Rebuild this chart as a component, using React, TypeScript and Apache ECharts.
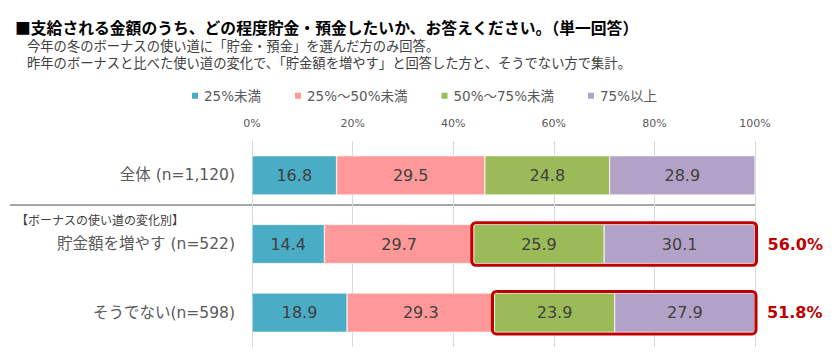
import React, { useEffect, useRef } from "react";
import * as echarts from "echarts";

const categories = ["全体 (n=1,120)", "貯金額を増やす (n=522)", "そうでない(n=598)"];
const seriesNames = ["25%未満", "25%～50%未満", "50%～75%未満", "75%以上"];
const under25 = [16.8, 14.4, 18.9];
const from25to50 = [29.5, 29.7, 29.3];
const from50to75 = [24.8, 25.9, 23.9];
const over75 = [28.9, 30.1, 27.9];
const highlightRows = [1, 2];
const xTicks = [0, 20, 40, 60, 80, 100];

const colors = ["#4BACC6", "#FF9999", "#9BBB59", "#B3A2C7"];
const JP = "'Noto Sans CJK JP', 'Noto Sans', sans-serif";
const MIX = "'DejaVu Sans', 'Noto Sans CJK JP', sans-serif";

export default function App() {
  const ref = useRef<HTMLDivElement>(null);
  useEffect(() => {
    if (!ref.current) return;
    const chart = echarts.init(ref.current, null, { renderer: "svg" });
    const values = [under25, from25to50, from50to75, over75];
    const boxData = highlightRows.map((i) => {
      const start = under25[i] + from25to50[i];
      const upper = from50to75[i] + over75[i];
      return [start, i, start + upper, upper.toFixed(1) + "%"];
    });
    chart.setOption({
      animation: false,
      textStyle: { fontFamily: MIX },
      grid: { left: 252, right: 85, top: 141, bottom: 9, containLabel: false },
      legend: {
        left: 185,
        top: 84,
        itemWidth: 8,
        itemHeight: 8,
        itemGap: 32,
        icon: "rect",
        textStyle: { fontSize: 13.5, color: "#595959", fontFamily: MIX },
        data: seriesNames,
      },
      xAxis: {
        type: "value",
        position: "top",
        min: xTicks[0],
        max: xTicks[xTicks.length - 1],
        interval: 20,
        axisLine: { show: false },
        axisTick: { show: false },
        splitLine: { show: true, lineStyle: { color: "#D9D9D9", width: 1 } },
        axisLabel: { formatter: "{value}%", fontSize: 11, color: "#595959", margin: 12, fontFamily: MIX },
      },
      yAxis: {
        type: "category",
        inverse: true,
        data: categories,
        axisLine: { show: true, lineStyle: { color: "#D9D9D9", width: 1 } },
        axisTick: { show: false },
        axisLabel: { fontSize: 15.5, color: "#595959", margin: 17, fontFamily: MIX },
      },
      series: [
        ...values.map((v, k) => ({
          type: "bar",
          name: seriesNames[k],
          stack: "total",
          data: v,
          barCategoryGap: "43%",
          itemStyle: { color: colors[k], borderColor: "#ffffff", borderWidth: 0.5 },
          label: {
            show: true,
            position: "inside",
            fontSize: 16,
            color: "#404040",
            fontFamily: MIX,
            formatter: (p: any) => Number(p.value).toFixed(1),
          },
        })),
        {
          type: "custom",
          name: "box",
          clip: false,
          z: 10,
          data: boxData,
          renderItem: (params: any, api: any) => {
            const s = api.value(0);
            const c = api.value(1);
            const e = api.value(2);
            const p0 = api.coord([s, c]);
            const p1 = api.coord([e, c]);
            const band = api.size([0, 1])[1];
            const h = band * 0.62;
            const txt = boxData[params.dataIndex][3];
            return {
              type: "group",
              children: [
                {
                  type: "rect",
                  shape: { x: p0[0] - 2, y: p0[1] - h / 2, width: p1[0] - p0[0] + 3, height: h, r: 4 },
                  style: { fill: "none", stroke: "#C00000", lineWidth: 3 },
                },
                {
                  type: "text",
                  x: p1[0] + 12,
                  y: p1[1],
                  style: {
                    text: txt,
                    fontSize: 16,
                    fontWeight: "bold",
                    fill: "#C00000",
                    fontFamily: MIX,
                    textAlign: "left",
                    textVerticalAlign: "middle",
                  },
                },
              ],
            };
          },
        },
      ],
      graphic: [
        {
          type: "text",
          x: 15,
          y: 27,
          style: {
            text: "■支給される金額のうち、どの程度貯金・預金したいか、お答えください。（単一回答）",
            fontSize: 15.8,
            fontWeight: "bold",
            fill: "#000000",
            fontFamily: JP,
            textVerticalAlign: "middle",
            lineHeight: 16,
          },
        },
        {
          type: "text",
          x: 27,
          y: 45.5,
          style: {
            text: "今年の冬のボーナスの使い道に「貯金・預金」を選んだ方のみ回答。",
            fontSize: 13.3,
            fill: "#404040",
            fontFamily: JP,
            textVerticalAlign: "middle",
            lineHeight: 14,
          },
        },
        {
          type: "text",
          x: 27,
          y: 62.5,
          style: {
            text: "昨年のボーナスと比べた使い道の変化で、「貯金額を増やす」と回答した方と、そうでない方で集計。",
            fontSize: 13.3,
            fill: "#404040",
            fontFamily: JP,
            textVerticalAlign: "middle",
            lineHeight: 14,
          },
        },
        {
          type: "line",
          shape: { x1: 10, y1: 205, x2: 755, y2: 205 },
          style: { stroke: "#A6A6A6", lineWidth: 2 },
        },
        {
          type: "text",
          x: 16,
          y: 219,
          style: {
            text: "【ボーナスの使い道の変化別】",
            fontSize: 12,
            fill: "#404040",
            fontFamily: JP,
            textVerticalAlign: "middle",
          },
        },
      ],
    });
    return () => chart.dispose();
  }, []);
  return (
    <div
      ref={ref}
      style={{ position: "absolute", left: 0, top: 0, width: 840, height: 356 }}
    />
  );
}
